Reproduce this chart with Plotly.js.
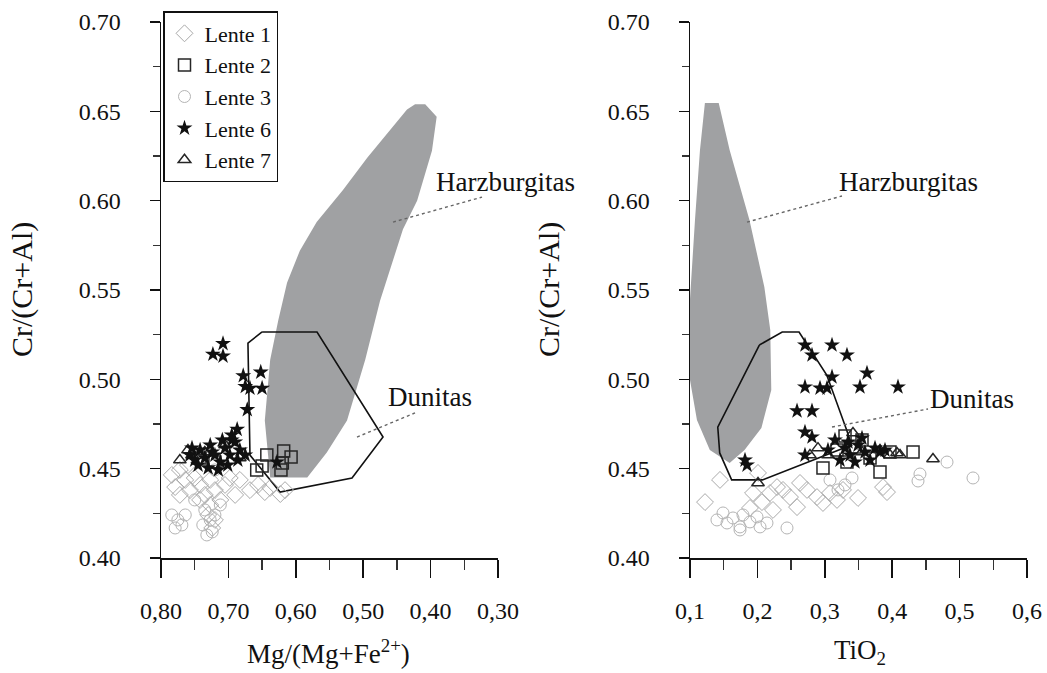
<!DOCTYPE html>
<html>
<head>
<meta charset="utf-8">
<script src="https://cdn.plot.ly/plotly-3.0.1.min.js"></script>
<style>html,body{margin:0;padding:0;background:#fff;}#chart{width:1047px;height:673px;}</style>
</head>
<body>
<div id="chart"></div>
<script>
// ---------- Categories / labels ----------
const seriesNames = ["Lente 1", "Lente 2", "Lente 3", "Lente 6", "Lente 7"];
const leftTickVals = [0.80, 0.70, 0.60, 0.50, 0.40, 0.30];
const leftTickText = ["0,80", "0,70", "0,60", "0,50", "0,40", "0,30"];
const rightTickVals = [0.1, 0.2, 0.3, 0.4, 0.5, 0.6];
const rightTickText = ["0,1", "0,2", "0,3", "0,4", "0,5", "0,6"];
const fieldLabels = ["Harzburgitas", "Dunitas"];

// ---------- Fields: left panel (Mg# vs Cr#) ----------
const harzLeftX = [0.638,0.646,0.638,0.626,0.613,0.594,0.569,0.530,0.494,0.435,0.423,0.408,0.391,0.398,0.420,0.441,0.475,0.497,0.524,0.554,0.583,0.638];
const harzLeftY = [0.445,0.477,0.511,0.533,0.554,0.572,0.588,0.606,0.624,0.651,0.654,0.654,0.647,0.628,0.600,0.584,0.544,0.511,0.477,0.459,0.445,0.445];
const dunLeftX = [0.650,0.5685,0.4706,0.5166,0.6234,0.668,0.671,0.650];
const dunLeftY = [0.5265,0.5265,0.4677,0.4448,0.4369,0.4576,0.5203,0.5265];
const harzLeftLeaderX = [0.4558, 0.3237];
const harzLeftLeaderY = [0.588, 0.602];
const dunLeftLeaderX = [0.5092, 0.4231];
const dunLeftLeaderY = [0.4677, 0.4812];

// ---------- Fields: right panel (TiO2 vs Cr#) ----------
const harzRightX = [0.1221,0.1426,0.1588,0.1882,0.2103,0.2191,0.2206,0.2059,0.1809,0.1588,0.1294,0.1103,0.100,0.100,0.1074,0.1148,0.1221];
const harzRightY = [0.6547,0.6547,0.6284,0.5892,0.5517,0.5276,0.494,0.4728,0.4604,0.4532,0.4604,0.4772,0.4996,0.545,0.5892,0.6284,0.6547];
const dunRightX = [0.2029,0.2368,0.2618,0.3029,0.3324,0.3397,0.2074,0.1618,0.1441,0.1412,0.2029];
const dunRightY = [0.5192,0.5265,0.5265,0.5024,0.4716,0.4632,0.4437,0.4437,0.4588,0.4733,0.5192];
const harzRightLeaderX = [0.1846, 0.3255];
const harzRightLeaderY = [0.588, 0.6026];
const dunRightLeaderX = [0.3107, 0.4531];
const dunRightLeaderY = [0.4733, 0.4834];

// ---------- Series: left panel ----------
const l1LeftX = [0.779,0.772,0.764,0.757,0.750,0.742,0.735,0.727,0.720,0.712,0.705,0.698,0.742,0.727,0.730,0.720,0.724,0.668,0.656,0.646,0.638,0.623,0.616,0.683,0.690,0.772,0.760,0.784];
const l1LeftY = [0.4397,0.4353,0.4437,0.438,0.4448,0.4409,0.4353,0.4437,0.438,0.4325,0.4409,0.4448,0.4325,0.4297,0.4241,0.4213,0.4168,0.438,0.4409,0.4369,0.4392,0.4358,0.438,0.4437,0.4353,0.4493,0.452,0.4465];
const l3LeftX = [0.784,0.775,0.779,0.769,0.764,0.735,0.727,0.738,0.724,0.732,0.720,0.750,0.712,0.720];
const l3LeftY = [0.4241,0.4213,0.4168,0.4185,0.4241,0.4269,0.4213,0.4185,0.4146,0.4129,0.4241,0.4325,0.4297,0.4493];
const l2LeftX = [0.643,0.618,0.607,0.620,0.622,0.658,0.650,0.742,0.720];
const l2LeftY = [0.4576,0.4599,0.4565,0.4532,0.4493,0.4493,0.4515,0.456,0.4537];
const l7LeftX = [0.760,0.754,0.735,0.705,0.683,0.772];
const l7LeftY = [0.4604,0.4576,0.4593,0.4632,0.456,0.4548];
const l6LeftX = [0.708,0.723,0.708,0.678,0.652,0.675,0.668,0.650,0.672,0.687,0.695,
                 0.757,0.750,0.742,0.735,0.727,0.720,0.712,0.705,0.698,0.690,0.683,0.745,0.730,0.715,0.701,0.686,0.675,0.754,0.724,0.709,0.695,0.628];
const l6LeftY = [0.520,0.514,0.513,0.502,0.504,0.496,0.495,0.495,0.483,0.472,0.466,
                 0.4576,0.4548,0.4604,0.456,0.4632,0.4576,0.4537,0.4615,0.4576,0.4649,0.4604,0.452,0.4504,0.4493,0.452,0.4548,0.4576,0.4615,0.4593,0.466,0.4688,0.4537];

// ---------- Series: right panel ----------
const l1RightX = [0.1445,0.1223,0.2009,0.1935,0.2068,0.2187,0.2291,0.238,0.2484,0.2588,0.2632,0.2736,0.2884,0.2973,0.3077,0.3181,0.327,0.3493,0.189,0.2231,0.3864,0.3923];
const l1RightY = [0.4437,0.4313,0.4476,0.4364,0.4313,0.4364,0.4397,0.4381,0.4341,0.4285,0.442,0.4381,0.4341,0.4308,0.4364,0.4325,0.4381,0.4336,0.428,0.4269,0.4397,0.4369];
const l3RightX = [0.140,0.149,0.1549,0.1638,0.1742,0.1786,0.189,0.1994,0.2039,0.2142,0.2439,0.1742,0.3077,0.3196,0.330,0.4412,0.4383,0.4813,0.5199,0.3404];
const l3RightY = [0.4213,0.4252,0.4196,0.4224,0.4174,0.4241,0.4202,0.423,0.4174,0.4196,0.4168,0.4157,0.4437,0.4381,0.4409,0.447,0.4431,0.4537,0.4448,0.4448];
const l2RightX = [0.2973,0.3181,0.3329,0.3448,0.3552,0.3671,0.3819,0.3967,0.4309,0.330];
const l2RightY = [0.4504,0.4604,0.4537,0.4621,0.466,0.456,0.4481,0.4593,0.4593,0.4683];
const l7RightX = [0.2009,0.4605,0.4071,0.3418,0.2899,0.3047,0.3552,0.3819,0.3967,0.4116,0.278];
const l7RightY = [0.442,0.4554,0.4588,0.470,0.4615,0.4576,0.4593,0.4604,0.4576,0.4576,0.4576];
const l6RightX = [0.2706,0.281,0.3107,0.3329,0.3107,0.3626,0.3522,0.4086,0.2706,0.2929,0.3033,0.2588,0.281,0.2706,0.281,0.2706,0.1816,0.1846,
                  0.3151,0.330,0.3374,0.3493,0.3596,0.3671,0.3745,0.3819,0.3226,0.3448,0.3552,0.3047,0.3893,0.3344];
const l6RightY = [0.5192,0.5136,0.5192,0.5136,0.5013,0.5035,0.4957,0.4957,0.4957,0.4951,0.4951,0.4823,0.4823,0.4705,0.4677,0.4576,0.4548,0.452,
                  0.466,0.4615,0.4576,0.4632,0.4593,0.4548,0.4615,0.4593,0.4548,0.4537,0.4671,0.4604,0.4604,0.4649];

// ---------- Styles ----------
const FONT = "Liberation Serif, Times New Roman, serif";
const styles = {
  "Lente 1": {symbol: "diamond-open", color: "#a9a9a9", size: 13, lw: 1},
  "Lente 2": {symbol: "square-open", color: "#262626", size: 12, lw: 1.5},
  "Lente 3": {symbol: "circle-open", color: "#b4b4b4", size: 12, lw: 1},
  "Lente 6": {symbol: "star", color: "#111111", size: 12, lw: 0},
  "Lente 7": {symbol: "triangle-up-open", color: "#262626", size: 11, lw: 1.5}
};

function pts(name, x, y, xa, ya, showLeg, rank) {
  const s = styles[name];
  return {
    type: "scatter", mode: "markers", x: x, y: y, xaxis: xa, yaxis: ya,
    name: name, legendgroup: name, showlegend: showLeg, legendrank: rank,
    marker: {symbol: s.symbol, size: s.size, color: s.color, line: {color: s.color, width: s.lw}},
    hoverinfo: "skip", cliponaxis: true
  };
}
function poly(x, y, xa, ya) {
  return {type: "scatter", mode: "none", x: x, y: y, xaxis: xa, yaxis: ya, fill: "toself",
          fillcolor: "#a0a1a3", showlegend: false, hoverinfo: "skip"};
}
function outline(x, y, xa, ya) {
  return {type: "scatter", mode: "lines", x: x, y: y, xaxis: xa, yaxis: ya,
          line: {color: "#111", width: 1.6}, showlegend: false, hoverinfo: "skip"};
}
function leader(x, y, xa, ya) {
  return {type: "scatter", mode: "lines", x: x, y: y, xaxis: xa, yaxis: ya,
          line: {color: "#666", width: 1.4, dash: "dot"}, showlegend: false, hoverinfo: "skip"};
}

const traces = [
  poly(harzLeftX, harzLeftY, "x", "y"),
  poly(harzRightX, harzRightY, "x2", "y2"),
  outline(dunLeftX, dunLeftY, "x", "y"),
  outline(dunRightX, dunRightY, "x2", "y2"),
  leader(harzLeftLeaderX, harzLeftLeaderY, "x", "y"),
  leader(dunLeftLeaderX, dunLeftLeaderY, "x", "y"),
  leader(harzRightLeaderX, harzRightLeaderY, "x2", "y2"),
  leader(dunRightLeaderX, dunRightLeaderY, "x2", "y2"),
  pts("Lente 1", l1LeftX, l1LeftY, "x", "y", true, 1),
  pts("Lente 3", l3LeftX, l3LeftY, "x", "y", true, 3),
  pts("Lente 2", l2LeftX, l2LeftY, "x", "y", true, 2),
  pts("Lente 7", l7LeftX, l7LeftY, "x", "y", true, 5),
  pts("Lente 6", l6LeftX, l6LeftY, "x", "y", true, 4),
  pts("Lente 1", l1RightX, l1RightY, "x2", "y2", false, 1),
  pts("Lente 3", l3RightX, l3RightY, "x2", "y2", false, 3),
  pts("Lente 2", l2RightX, l2RightY, "x2", "y2", false, 2),
  pts("Lente 7", l7RightX, l7RightY, "x2", "y2", false, 5),
  pts("Lente 6", l6RightX, l6RightY, "x2", "y2", false, 4)
];

const W = 1047, H = 673;
const yDom = [(H - 558) / H, (H - 22) / H];
const baseY = {
  range: [0.40, 0.70], dtick: 0.05, tick0: 0.40, tickformat: ".2f",
  ticks: "outside", ticklen: 10, tickwidth: 1.5, tickcolor: "#111",
  showline: true, linecolor: "#111", linewidth: 1.5, showgrid: false, zeroline: false,
  tickfont: {family: FONT, size: 24, color: "#111"}, ticklabelstandoff: 24,
  minor: {dtick: 0.025, tick0: 0.40, ticks: "outside", ticklen: 7, tickwidth: 1.5, tickcolor: "#333", showgrid: false},
  domain: yDom, fixedrange: true
};
const baseX = {
  ticks: "outside", ticklen: 18, tickwidth: 1.5, tickcolor: "#111",
  showline: true, linecolor: "#111", linewidth: 1.5, showgrid: false, zeroline: false,
  tickfont: {family: FONT, size: 24, color: "#111"}, ticklabelstandoff: 13,
  tickmode: "array", fixedrange: true
};

function label(text, px, py, size, angle) {
  return {text: text, xref: "paper", yref: "paper", x: px / W, y: (H - py) / H,
          xanchor: "center", yanchor: "middle", textangle: angle || 0,
          showarrow: false, font: {family: FONT, size: size, color: "#111"}};
}

const layout = {
  width: W, height: H, margin: {l: 0, r: 0, t: 0, b: 0},
  paper_bgcolor: "#fff", plot_bgcolor: "rgba(0,0,0,0)",
  font: {family: FONT, color: "#111"},
  showlegend: true,
  legend: {x: 163 / W, y: (H - 11) / H, xanchor: "left", yanchor: "top",
           bgcolor: "#fff", bordercolor: "#111", borderwidth: 1.5,
           font: {family: FONT, size: 22, color: "#111"}, tracegroupgap: 0, itemwidth: 30},
  xaxis: Object.assign({}, baseX, {
    range: [0.80, 0.30], domain: [161 / W, 498 / W], anchor: "y",
    tickvals: leftTickVals, ticktext: leftTickText,
    minor: {tickvals: [0.75, 0.65, 0.55, 0.45, 0.35], ticks: "outside", ticklen: 10, tickwidth: 1.5, tickcolor: "#333"}
  }),
  yaxis: Object.assign({}, baseY, {anchor: "x"}),
  xaxis2: Object.assign({}, baseX, {
    range: [0.1, 0.6], domain: [690 / W, 1027 / W], anchor: "y2",
    tickvals: rightTickVals, ticktext: rightTickText,
    minor: {tickvals: [0.15, 0.25, 0.35, 0.45, 0.55], ticks: "outside", ticklen: 10, tickwidth: 1.5, tickcolor: "#333"}
  }),
  yaxis2: Object.assign({}, baseY, {anchor: "x2"}),
  annotations: [
    label("Cr/(Cr+Al)", 22, 290, 30, -90),
    label("Cr/(Cr+Al)", 549, 290, 30, -90),
    label("Mg/(Mg+Fe<sup>2+</sup>)", 328, 652, 27),
    label("TiO<sub>2</sub>", 860, 652, 27),
    label(fieldLabels[0], 505, 182, 27),
    label(fieldLabels[1], 430, 397, 27),
    label(fieldLabels[0], 908, 182, 27),
    label(fieldLabels[1], 972, 399, 27)
  ]
};

Plotly.newPlot("chart", traces, layout, {staticPlot: true, displayModeBar: false});
</script>
</body>
</html>
